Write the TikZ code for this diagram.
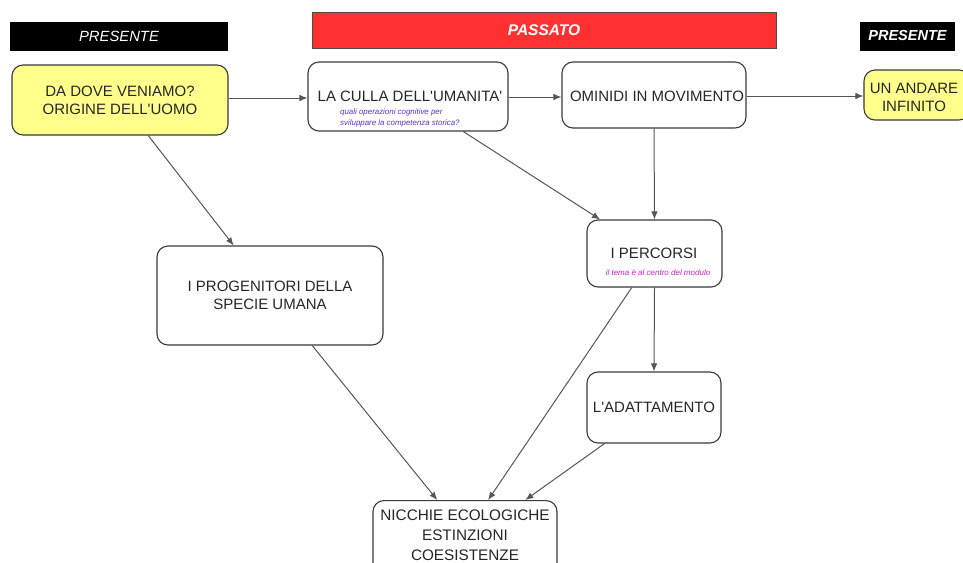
\documentclass[tikz,border=0pt]{standalone}
\usepackage{fontspec}
\setmainfont{Liberation Sans}[Ligatures=TeXOff]
\usetikzlibrary{calc,arrows.meta}
\definecolor{boxline}{HTML}{3A3A3A}
\definecolor{paleyellow}{HTML}{FFFF8C}
\definecolor{banner}{HTML}{FF3030}
\definecolor{notepurple}{HTML}{5A32D2}
\definecolor{notepink}{HTML}{D21ED2}
\definecolor{linkgray}{HTML}{555555}
\tikzset{
  conceptfont/.style={font=\fontsize{15}{18}\selectfont, text=black!85},
  concept/.style={draw=boxline, line width=1.1pt, rounded corners=11pt, fill=white,
    align=center, conceptfont, inner sep=0pt},
  origin/.style={concept, fill=paleyellow},
  header/.style={fill=black, text=white, font=\fontsize{14.8}{17}\selectfont\itshape, inner sep=0pt},
  redheader/.style={fill=banner, draw=black!70, line width=0.8pt, text=white,
    font=\fontsize{15.5}{17}\selectfont\itshape\bfseries, inner sep=0pt},
  link/.style={draw=linkgray, line width=1pt, -{Latex[length=8pt,width=6.5pt]}},
  note/.style={font=\fontsize{7.9}{11.5}\selectfont\itshape, align=left, inner sep=0pt}
}
\begin{document}
\begin{tikzpicture}[x=1pt,y=-1pt]
\useasboundingbox (0,0) rectangle (963,562);
\fill[white] (0,0) rectangle (963,562);
\clip (0,0) rectangle (963,562);

% time banners
\node[header, minimum width=218pt, minimum height=29pt] (pres1) at (119,36) {PRESENTE};
\node[redheader, minimum width=464pt, minimum height=36pt] (passato) at (544,30) {PASSATO};
\node[header, minimum width=95pt, minimum height=29pt, font=\fontsize{14.5}{17}\selectfont\itshape\bfseries] (pres2) at (907.5,36) {PRESENTE};

% concepts
\node[origin, minimum width=216pt, minimum height=70pt] (origine) at (120,100)
  {DA DOVE VENIAMO?\\ORIGINE DELL'UOMO};
\node[concept, minimum width=200pt, minimum height=69pt] (culla) at (408,96.5) {};
\node[conceptfont] (cullatitle) at (410,96) {LA CULLA DELL'UMANITA'};
\node[note, text=notepurple, anchor=west] (cullanote) at (340,118)
  {quali operazioni cognitive per\\sviluppare la competenza storica?};
\node[concept, minimum width=184pt, minimum height=66pt] (ominidi) at (654,95) {};
\node[conceptfont] (ominidititle) at (657,96) {OMINIDI IN MOVIMENTO};
\node[origin, minimum width=106pt, minimum height=50pt] (andare) at (917,95) {};
\node[align=center, conceptfont] (andaretitle) at (914,97) {UN ANDARE\\INFINITO};
\node[concept, minimum width=135pt, minimum height=67pt] (percorsi) at (654.5,253.5) {};
\node[conceptfont] (percorsititle) at (654,253) {I PERCORSI};
\node[note, text=notepink, font=\fontsize{8}{9}\selectfont\itshape] (percorsinote) at (658,273)
  {il tema è al centro del modulo};
\node[concept, minimum width=226pt, minimum height=99pt] (progenitori) at (270,295.5)
  {I PROGENITORI DELLA\\SPECIE UMANA};
\node[concept, minimum width=134pt, minimum height=71pt] (adattamento) at (654,407.5) {L'ADATTAMENTO};
\node[concept, minimum width=184pt, minimum height=78pt, anchor=north] (nicchie) at (465,500) {};
\node[align=center, conceptfont, font=\fontsize{15.3}{20}\selectfont] (nicchietitle) at (465,535)
  {NICCHIE ECOLOGICHE\\ESTINZIONI\\COESISTENZE};

% connections
\draw[link] (origine.east |- 0,98) -- (culla.west |- 0,98);
\draw[link] (culla.east |- 0,97) -- (ominidi.west |- 0,97);
\draw[link] (ominidi.east |- 0,96) -- (andare.west |- 0,96);
\draw[link] ($(origine.south west)!0.63!(origine.south east)$) -- ($(progenitori.north west)!0.34!(progenitori.north east)$);
\draw[link] ($(culla.south west)!0.775!(culla.south east)$) -- ($(percorsi.north west)!0.1!(percorsi.north east)$);
\draw[link] (ominidi.south) -- (percorsi.north);
\draw[link] (percorsi.south) -- (adattamento.north);
\draw[link] ($(progenitori.south west)!0.686!(progenitori.south east)$) -- ($(nicchie.north west)!0.35!(nicchie.north east)$);
\draw[link] ($(percorsi.south west)!0.333!(percorsi.south east)$) -- ($(nicchie.north west)!0.625!(nicchie.north east)$);
\draw[link] ($(adattamento.south west)!0.134!(adattamento.south east)$) -- ($(nicchie.north west)!0.826!(nicchie.north east)$);
\end{tikzpicture}
\end{document}
